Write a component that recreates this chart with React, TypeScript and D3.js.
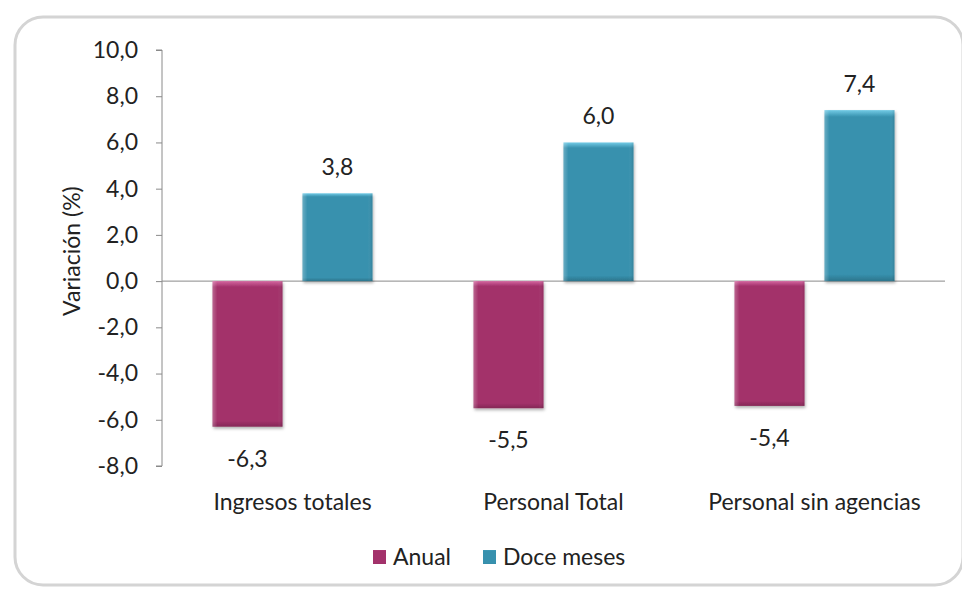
import { useEffect, useRef } from 'react';
import * as d3 from 'd3';

const categories = ['Ingresos totales', 'Personal Total', 'Personal sin agencias'];
const series = ['Anual', 'Doce meses'];
const anual = [-6.3, -5.5, -5.4];
const doceMeses = [3.8, 6.0, 7.4];
const yTicks = [-8, -6, -4, -2, 0, 2, 4, 6, 8, 10];

const colors = ['#a3326b', '#3791ae'];
const lightColors = ['#d466a0', '#72cbe6'];

const fmt = (v: number) => v.toFixed(1).replace('.', ',');

export default function App() {
  const ref = useRef<SVGSVGElement | null>(null);

  useEffect(() => {
    if (!ref.current) return;
    const width = 970;
    const height = 595;
    const margin = { top: 50, right: 25, bottom: 129, left: 162 };
    const font = 'Lato, "Open Sans", sans-serif';
    const fs = 23;

    const svg = d3.select(ref.current);
    svg.selectAll('*').remove();

    const defs = svg.append('defs');
    series.forEach((_, i) => {
      const g = defs
        .append('linearGradient')
        .attr('id', `grad${i}`)
        .attr('x1', 0)
        .attr('x2', 0)
        .attr('y1', 0)
        .attr('y2', 1);
      g.append('stop').attr('offset', '0%').attr('stop-color', lightColors[i]);
      g.append('stop').attr('offset', '4%').attr('stop-color', colors[i]);
      g.append('stop').attr('offset', '96%').attr('stop-color', colors[i]);
      g.append('stop').attr('offset', '100%').attr('stop-color', d3.color(colors[i])!.darker(0.6).toString());
    });
    const side = defs
      .append('linearGradient')
      .attr('id', 'side')
      .attr('x1', 0)
      .attr('x2', 1)
      .attr('y1', 0)
      .attr('y2', 0);
    side.append('stop').attr('offset', '0%').attr('stop-color', 'white').attr('stop-opacity', 0.25);
    side.append('stop').attr('offset', '7%').attr('stop-color', 'white').attr('stop-opacity', 0);
    side.append('stop').attr('offset', '93%').attr('stop-color', 'white').attr('stop-opacity', 0);
    side.append('stop').attr('offset', '100%').attr('stop-color', 'black').attr('stop-opacity', 0.12);
    const shadow = defs.append('filter').attr('id', 'shadow').attr('x', '-20%').attr('y', '-20%').attr('width', '140%').attr('height', '140%');
    shadow.append('feDropShadow').attr('dx', 1).attr('dy', 2).attr('stdDeviation', 1.5).attr('flood-opacity', 0.3);

    // frame
    svg
      .append('rect')
      .attr('x', 15)
      .attr('y', 17)
      .attr('width', 948)
      .attr('height', 568)
      .attr('rx', 28)
      .attr('fill', 'white')
      .attr('stroke', '#d4d4d4')
      .attr('stroke-width', 3);

    const x0 = d3
      .scaleBand<string>()
      .domain(categories)
      .range([margin.left, width - margin.right]);
    const x1 = d3.scaleBand<string>().domain(series).range([0, 160]).paddingInner(0.222);

    const y = d3.scaleLinear().domain([-8, 10]).range([height - 129, margin.top]);

    // axis
    const axis = svg
      .append('g')
      .attr('transform', `translate(${margin.left},0)`)
      .call(d3.axisLeft(y).tickValues(yTicks).tickSize(6).tickFormat((d) => fmt(d as number)));
    axis.select('.domain').attr('stroke', '#8a8a8a').attr('d', `M-6,${y(10)}H0V${y(-8)}H-6`);
    axis.selectAll('.tick line').attr('stroke', '#8a8a8a');
    axis
      .selectAll('.tick text')
      .attr('x', -24)
      .attr('font-family', font)
      .attr('font-size', fs)
      .attr('fill', '#222');

    // zero line
    svg
      .append('line')
      .attr('x1', margin.left)
      .attr('x2', width - margin.right)
      .attr('y1', y(0))
      .attr('y2', y(0))
      .attr('stroke', '#8a8a8a');

    const values = [anual, doceMeses];
    const groups = svg
      .append('g')
      .selectAll('g')
      .data(categories)
      .join('g')
      .attr('transform', (d) => `translate(${x0(d)! + x0.bandwidth() / 2 - 80},0)`);

    series.forEach((s, si) => {
      groups
        .append('rect')
        .attr('x', x1(s)!)
        .attr('width', x1.bandwidth())
        .attr('y', (_, ci) => y(Math.max(0, values[si][ci])))
        .attr('height', (_, ci) => Math.abs(y(values[si][ci]) - y(0)))
        .attr('fill', `url(#grad${si})`)
        .attr('filter', 'url(#shadow)');
      groups
        .append('rect')
        .attr('x', x1(s)!)
        .attr('width', x1.bandwidth())
        .attr('y', (_, ci) => y(Math.max(0, values[si][ci])))
        .attr('height', (_, ci) => Math.abs(y(values[si][ci]) - y(0)))
        .attr('fill', 'url(#side)');
      groups
        .append('text')
        .attr('x', x1(s)! + x1.bandwidth() / 2)
        .attr('y', (_, ci) => (values[si][ci] >= 0 ? y(values[si][ci]) - 18 : y(values[si][ci]) + 40))
        .attr('text-anchor', 'middle')
        .attr('font-family', font)
        .attr('font-size', fs)
        .attr('fill', '#222')
        .text((_, ci) => fmt(values[si][ci]));
    });

    // category labels
    svg
      .append('g')
      .selectAll('text')
      .data(categories)
      .join('text')
      .attr('x', (d) => x0(d)! + x0.bandwidth() / 2)
      .attr('y', 510)
      .attr('text-anchor', 'middle')
      .attr('font-family', font)
      .attr('font-size', fs)
      .attr('fill', '#222')
      .text((d) => d);

    // y title
    svg
      .append('text')
      .attr('transform', `translate(80,${y(1.3)}) rotate(-90)`)
      .attr('text-anchor', 'middle')
      .attr('font-family', font)
      .attr('font-size', fs)
      .attr('fill', '#222')
      .text('Variación (%)');

    // legend
    const legendX = [373, 483];
    const legend = svg
      .append('g')
      .selectAll('g')
      .data(series)
      .join('g')
      .attr('transform', (_, i) => `translate(${legendX[i]},550)`);
    legend
      .append('rect')
      .attr('width', 13)
      .attr('height', 14)
      .attr('fill', (_, i) => `url(#grad${i})`);
    legend
      .append('text')
      .attr('x', 20)
      .attr('y', 15)
      .attr('font-family', font)
      .attr('font-size', fs)
      .attr('fill', '#222')
      .text((d) => d);
  }, []);

  return <svg ref={ref} width={970} height={595} style={{ display: 'block', margin: -8 }} />;
}
